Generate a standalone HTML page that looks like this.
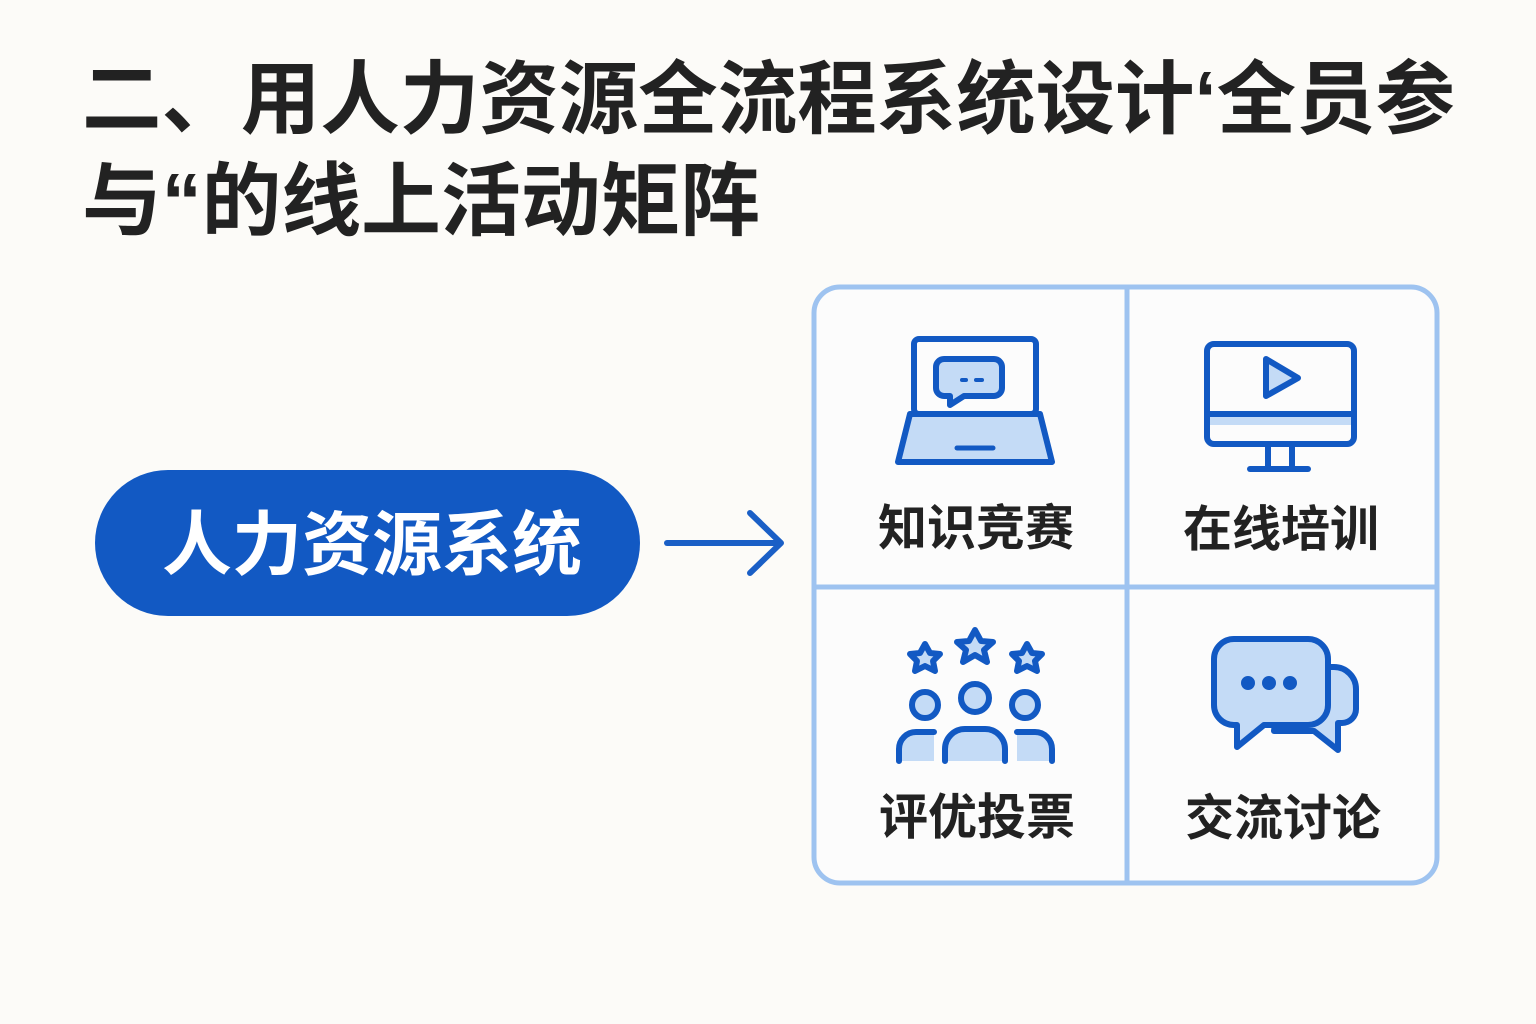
<!DOCTYPE html>
<html><head><meta charset="utf-8"><style>
html,body{margin:0;padding:0;background:#fcfbf8;}
svg{display:block}
</style></head><body>
<svg width="1536" height="1024" viewBox="0 0 1536 1024" xmlns="http://www.w3.org/2000/svg">
<rect width="1536" height="1024" fill="#fcfbf8"/>
<g font-family="'Liberation Sans','Noto Sans CJK SC',sans-serif" font-weight="bold" fill="#222222">
<text x="82" y="127" font-size="80" textLength="1373" lengthAdjust="spacingAndGlyphs">二、用人力资源全流程系统设计‘全员参</text>
<text x="82" y="229" font-size="80" textLength="678" lengthAdjust="spacingAndGlyphs">与“的线上活动矩阵</text>
</g>
<rect x="95" y="470" width="545" height="146" rx="73" fill="#1259c3"/>
<text x="372" y="569" font-size="70" font-weight="bold" fill="#ffffff" text-anchor="middle" font-family="'Liberation Sans','Noto Sans CJK SC',sans-serif" textLength="420" lengthAdjust="spacingAndGlyphs">人力资源系统</text>
<g stroke="#1a5fc6" stroke-width="6" fill="none" stroke-linecap="round" stroke-linejoin="round">
<line x1="667" y1="543" x2="780" y2="543"/>
<polyline points="750,513 781,543 750,573"/>
</g>
<rect x="814" y="287" width="623" height="596" rx="26" fill="#fcfcfc" stroke="#9ec3f0" stroke-width="5"/>
<line x1="1127" y1="289" x2="1127" y2="881" stroke="#9ec3f0" stroke-width="5"/>
<line x1="816" y1="587" x2="1435" y2="587" stroke="#9ec3f0" stroke-width="5"/>
<g font-family="'Liberation Sans','Noto Sans CJK SC',sans-serif" font-weight="bold" fill="#222" font-size="49" text-anchor="middle">
<text x="976" y="545">知识竞赛</text>
<text x="1281" y="546">在线培训</text>
<text x="977" y="834">评优投票</text>
<text x="1283" y="835">交流讨论</text>
</g>
<g stroke="#1259c3" stroke-width="6" stroke-linejoin="round" stroke-linecap="round" fill="#c4dbf6">
<rect x="914" y="339" width="122" height="75" rx="5" fill="#fcfcfc"/>
<path d="M910,414 L1040,414 L1052,462 L898,462 Z"/>
<line x1="957" y1="448" x2="993" y2="448" stroke-width="5"/>
<path d="M944,359 h50 a8,8 0 0 1 8,8 v21 a8,8 0 0 1 -8,8 h-30 l-14,9 v-9 h-6 a8,8 0 0 1 -8,-8 v-21 a8,8 0 0 1 8,-8 z"/>
<line x1="962" y1="380" x2="966" y2="380" stroke-width="4"/>
<line x1="976" y1="380" x2="982" y2="380" stroke-width="4"/>
<rect x="1207" y="344" width="147" height="100" rx="7" fill="#fcfcfc"/>
<rect x="1210" y="417" width="141" height="8" fill="#c4dbf6" stroke="none"/>
<line x1="1209" y1="414" x2="1352" y2="414"/>
<path d="M1268,445 v23 M1292,445 v23"/>
<line x1="1250" y1="469" x2="1308" y2="469"/>
<path d="M1266,359 L1298,378 L1266,396 Z"/>
<path d="M975,630 l6,11 12,1 -9,8 3,12 -12,-7 -12,7 3,-12 -9,-8 12,-1z"/>
<path d="M925,644 l5,9 10,1 -7,7 2,10 -10,-5 -10,5 2,-10 -7,-7 10,-1z"/>
<path d="M1027,644 l5,9 10,1 -7,7 2,10 -10,-5 -10,5 2,-10 -7,-7 10,-1z"/>
<circle cx="975" cy="698" r="14"/>
<circle cx="925" cy="705" r="13"/>
<circle cx="1025" cy="705" r="13"/>
<path d="M899,761 v-12 a17,17 0 0 1 17,-17 h18 v29 z" stroke="none"/>
<path d="M899,761 v-12 a17,17 0 0 1 17,-17 h18"/>
<path d="M1052,761 v-12 a17,17 0 0 0 -17,-17 h-18 v29 z" stroke="none"/>
<path d="M1052,761 v-12 a17,17 0 0 0 -17,-17 h-18"/>
<path d="M945,761 v-12 a20,20 0 0 1 20,-20 h20 a20,20 0 0 1 20,20 v12 z" stroke="none"/>
<path d="M945,761 v-12 a20,20 0 0 1 20,-20 h20 a20,20 0 0 1 20,20 v12"/>
<path d="M1282,667 h52 a22,22 0 0 1 22,22 v20 a14,14 0 0 1 -14,14 h-4 v27 l-24,-19 h-40 z"/>
<path d="M1234,639 h74 a20,20 0 0 1 20,20 v46 a20,20 0 0 1 -20,20 h-44 l-27,22 v-22 h-3 a20,20 0 0 1 -20,-20 v-46 a20,20 0 0 1 20,-20 z"/>
<circle cx="1248" cy="683" r="4" fill="#1259c3"/>
<circle cx="1269" cy="683" r="4" fill="#1259c3"/>
<circle cx="1290" cy="683" r="4" fill="#1259c3"/>
</g>
</svg>
</body></html>
